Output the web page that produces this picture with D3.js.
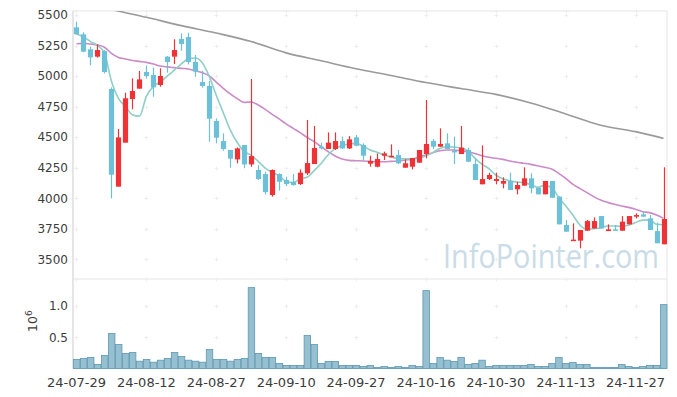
<!DOCTYPE html>
<html><head><meta charset="utf-8">
<script src="https://cdn.jsdelivr.net/npm/d3@7"></script>
<style>
html,body{margin:0;padding:0;background:#fff;}
svg{display:block;font-family:"DejaVu Sans",sans-serif;}
</style></head>
<body><svg id="c" width="677" height="397"></svg>
<script>
const dates = ["24-07-29","24-07-30","24-07-31","24-08-01","24-08-02","24-08-05","24-08-06","24-08-07","24-08-08","24-08-09",
"24-08-12","24-08-13","24-08-14","24-08-16","24-08-19","24-08-20","24-08-21","24-08-22","24-08-23","24-08-26",
"24-08-27","24-08-28","24-08-29","24-08-30","24-09-02","24-09-03","24-09-04","24-09-05","24-09-06","24-09-09",
"24-09-10","24-09-11","24-09-12","24-09-13","24-09-19","24-09-20","24-09-23","24-09-24","24-09-25","24-09-26",
"24-09-27","24-09-30","24-10-02","24-10-04","24-10-07","24-10-08","24-10-10","24-10-11","24-10-14","24-10-15",
"24-10-16","24-10-17","24-10-18","24-10-21","24-10-22","24-10-23","24-10-24","24-10-25","24-10-28","24-10-29",
"24-10-30","24-10-31","24-11-01","24-11-04","24-11-05","24-11-06","24-11-07","24-11-08","24-11-11","24-11-12",
"24-11-13","24-11-14","24-11-15","24-11-18","24-11-19","24-11-20","24-11-21","24-11-22","24-11-25","24-11-26",
"24-11-27","24-11-28","24-11-29","24-12-02","24-12-03"];
const open  = [5399,5342,5219,5159,5205,4894,4095,4455,4812,4897,5033,5009,4927,5159,5159,5304,5320,5115,4951,4919,
4632,4468,4395,4318,4436,4277,4231,4198,4026,4198,4149,4133,4116,4204,4280,4422,4403,4403,4468,4408,
4498,4436,4283,4258,4348,4335,4354,4250,4258,4291,4362,4468,4422,4449,4389,4362,4395,4280,4114,4157,
4141,4119,4141,4073,4103,4163,4086,4032,4141,4013,3781,3650,3653,3734,3753,3854,3731,3745,3734,3786,
3849,3868,3835,3731,3623];
const high  = [5445,5358,5241,5260,5213,4908,4567,4864,4981,5042,5088,5069,5063,5164,5301,5350,5355,5173,5044,4960,
4654,4531,4395,4416,4436,4976,4272,4217,4236,4204,4176,4198,4236,4640,4591,4455,4539,4539,4504,4509,
4518,4449,4348,4367,4381,4441,4395,4318,4329,4395,4804,4485,4572,4531,4504,4591,4414,4326,4433,4209,
4209,4171,4209,4135,4253,4204,4086,4141,4141,4013,3822,3794,3740,3822,3843,3854,3786,3781,3854,3854,
3876,3890,3862,3800,4253];
const low   = [5339,5195,5088,5151,5022,3999,4095,4455,4728,4897,4979,4831,4913,5028,5099,5208,5096,4995,4905,4463,
4449,4389,4250,4285,4245,4258,4150,4032,4013,4062,4100,4103,4108,4190,4280,4400,4403,4395,4403,4403,
4425,4307,4258,4253,4313,4335,4280,4250,4236,4291,4327,4403,4422,4403,4280,4362,4299,4149,4114,4149,
4114,4081,4067,4032,4103,4040,4032,4032,4004,3786,3726,3650,3590,3734,3753,3753,3731,3734,3734,3786,
3835,3849,3740,3631,3623];
const close = [5342,5200,5153,5213,5033,4193,4498,4818,4878,4973,5001,4908,5001,5115,5213,5263,5115,5036,4919,4651,
4496,4403,4324,4408,4277,4345,4157,4050,4231,4135,4116,4108,4209,4288,4411,4408,4455,4468,4408,4482,
4430,4348,4305,4321,4367,4348,4286,4286,4329,4395,4444,4422,4444,4403,4375,4414,4299,4149,4157,4190,
4157,4141,4067,4108,4163,4081,4032,4141,4004,3786,3726,3661,3740,3813,3813,3753,3745,3734,3808,3854,
3862,3849,3740,3631,3830];
const volume = [0.144,0.160,0.176,0.064,0.208,0.559,0.383,0.240,0.256,0.117,0.144,0.101,0.133,0.160,0.256,0.192,0.133,0.117,0.101,0.304,
0.144,0.144,0.117,0.144,0.160,1.294,0.240,0.176,0.176,0.080,0.048,0.048,0.048,0.527,0.383,0.080,0.112,0.112,0.048,0.048,
0.048,0.032,0.048,0.016,0.032,0.016,0.032,0.016,0.048,0.032,1.246,0.080,0.176,0.133,0.112,0.176,0.064,0.080,0.133,0.032,
0.048,0.048,0.048,0.048,0.048,0.064,0.032,0.032,0.080,0.176,0.080,0.096,0.064,0.064,0.016,0.016,0.016,0.016,0.064,0.032,
0.016,0.032,0.048,0.048,1.022];
const ma5 = [5345,5322,5282,5250,5188,4958,4818,4751,4684,4672,4834,4916,4952,5000,5048,5100,5141,5148,5109,4997,
4843,4701,4559,4456,4382,4351,4302,4247,4212,4184,4138,4128,4160,4171,4226,4285,4354,4406,4430,4444,
4449,4427,4395,4377,4354,4338,4325,4322,4323,4329,4348,4375,4407,4422,4418,4412,4387,4328,4279,4242,
4190,4159,4142,4133,4127,4112,4090,4105,4084,4009,3938,3864,3783,3745,3751,3756,3773,3772,3771,3779,
3801,3821,3823,3787,3782];
const ma20 = [5265,5268,5262,5254,5236,5186,5153,5140,5128,5120,5112,5099,5082,5075,5069,5063,5058,5044,5028,5001,
4950,4900,4855,4815,4785,4788,4763,4728,4687,4649,4608,4572,4537,4498,4463,4422,4381,4346,4321,4310,
4307,4305,4302,4299,4299,4302,4305,4313,4318,4340,4354,4373,4389,4395,4395,4389,4381,4367,4348,4335,
4327,4318,4305,4294,4286,4277,4266,4253,4239,4204,4163,4116,4081,4048,4013,3985,3966,3950,3936,3925,
3909,3890,3882,3863,3835];
const ma120Idx = [0,5,10,15,20,25,30,35,40,45,50,55,60,65,70,75,80,84];
const ma120 = [5615,5545,5481,5413,5352,5283,5190,5125,5060,5005,4947,4898,4850,4780,4690,4598,4545,4490];
const priceTicks = [3500,3750,4000,4250,4500,4750,5000,5250,5500];
const volTicks = [0.5,1.0];
const volTickLabels = ["0.5","1.0"];
const xTickIdx = [0,10,20,30,40,50,60,70,80];
const watermark = "InfoPointer.com";

const svg = d3.select("#c");
const L = 73, R = 667, T = 11, MID = 279, B = 368.5;
const idx = d3.range(dates.length);
const x = d3.scaleBand().domain(idx).range([L, R]).padding(0);
const cx = i => x(i) + x.bandwidth()/2;
const y = d3.scaleLinear().domain([3500,5500]).range([259.3,15]);
const yv = d3.scaleLinear().domain([0,1]).range([B, 306]);
const grid = "#e6e6e6", txt = "#3c3c3c";

// frame
svg.append("rect").attr("x",L).attr("y",T).attr("width",R-L).attr("height",B-T).attr("fill","none").attr("stroke",grid).attr("stroke-width",1);
svg.append("line").attr("x1",L).attr("x2",R).attr("y1",MID).attr("y2",MID).attr("stroke",grid);
svg.append("line").attr("x1",L).attr("x2",L).attr("y1",T).attr("y2",B).attr("stroke","#d9d9d9");
svg.append("line").attr("x1",L).attr("x2",R).attr("y1",B).attr("y2",B).attr("stroke","#d9d9d9");

// plus grid marks
const plusG = svg.append("g").attr("stroke","#eeeeee").attr("stroke-width",1);
const ys = priceTicks.map(y).concat(volTicks.map(yv)).concat([T, MID]);
xTickIdx.forEach(i => ys.forEach(yy => {
  const px = Math.round(cx(i))+0.5, py = Math.round(yy)+0.5;
  plusG.append("line").attr("x1",px-2).attr("x2",px+2).attr("y1",py).attr("y2",py);
  plusG.append("line").attr("x1",px).attr("x2",px).attr("y1",py-2).attr("y2",py+2);
}));

// watermark
svg.append("text").attr("x",443).attr("y",268).attr("font-family","'Open Sans','Noto Sans',sans-serif")
  .attr("font-size",33).attr("fill","#c9dce7").attr("textLength",216).attr("lengthAdjust","spacingAndGlyphs").text(watermark);

// y axis labels
const yAxis = d3.axisLeft(y).tickValues(priceTicks).tickFormat(d3.format("d")).tickSize(0).tickPadding(5);
const ga = svg.append("g").attr("transform",`translate(${L},0)`).call(yAxis);
ga.select(".domain").remove();
ga.selectAll("text").attr("font-size",12).attr("fill",txt).attr("font-family","'DejaVu Sans',sans-serif");
const vAxis = d3.axisLeft(yv).tickValues(volTicks).tickFormat((d,i)=>volTickLabels[i]).tickSize(0).tickPadding(5);
const gv = svg.append("g").attr("transform",`translate(${L},0)`).call(vAxis);
gv.select(".domain").remove();
gv.selectAll("text").attr("font-size",12).attr("fill",txt).attr("font-family","'DejaVu Sans',sans-serif");

// x axis labels
const xAxis = d3.axisBottom(x).tickValues(xTickIdx).tickFormat(i=>dates[i]).tickSize(0).tickPadding(9);
const gx = svg.append("g").attr("transform",`translate(0,${B})`).call(xAxis);
gx.select(".domain").remove();
gx.selectAll("text").attr("font-size",13).attr("fill",txt).attr("font-family","'DejaVu Sans',sans-serif");

// 10^6 label
const lab = svg.append("text").attr("transform","translate(37,332) rotate(-90)").attr("font-size",12.5).attr("fill",txt);
lab.append("tspan").text("10");
lab.append("tspan").attr("dy",-5).attr("font-size",9).text("6");

// clip
svg.append("clipPath").attr("id","pc").append("rect").attr("x",L).attr("y",T).attr("width",R-L).attr("height",MID-T);
const pg = svg.append("g").attr("clip-path","url(#pc)");

// volume bars
svg.append("g").selectAll("rect").data(idx).join("rect")
  .attr("x",i=>x(i)+0.5).attr("width",x.bandwidth()-0.5)
  .attr("y",i=>yv(volume[i])).attr("height",i=>B-yv(volume[i]))
  .attr("fill","#96bfd0").attr("stroke","#5d98b3").attr("stroke-width",0.8);

// MA lines
const line = (arr) => d3.line().x(i=>cx(i)).y(i=>y(arr[i])).curve(d3.curveMonotoneX);
pg.append("path").datum(idx).attr("d",line(ma20)).attr("fill","none").attr("stroke","#cc8ac8").attr("stroke-width",1.6);
pg.append("path").datum(idx).attr("d",line(ma5)).attr("fill","none").attr("stroke","#8fcfc6").attr("stroke-width",1.6);
pg.append("path").datum(d3.range(ma120Idx.length))
  .attr("d",d3.line().x(k=>cx(ma120Idx[k])).y(k=>y(ma120[k])).curve(d3.curveMonotoneX))
  .attr("fill","none").attr("stroke","#9a9a9a").attr("stroke-width",1.6);

// candles
const up = "#ee3236", dn = "#6cc0d8";
const cg = pg.append("g");
const bw = 5.2;
idx.forEach(i => {
  const c = close[i] >= open[i] ? up : dn;
  cg.append("line").attr("x1",Math.round(cx(i))+0.5).attr("x2",Math.round(cx(i))+0.5)
    .attr("y1",y(high[i])).attr("y2",y(low[i])).attr("stroke",c).attr("stroke-width",1.2);
  const t = y(Math.max(open[i],close[i])), b = y(Math.min(open[i],close[i]));
  cg.append("rect").attr("x",Math.round(cx(i))+0.5-bw/2).attr("width",bw)
    .attr("y",t).attr("height",Math.max(1.5,b-t)).attr("fill",c);
});
</script></body></html>
